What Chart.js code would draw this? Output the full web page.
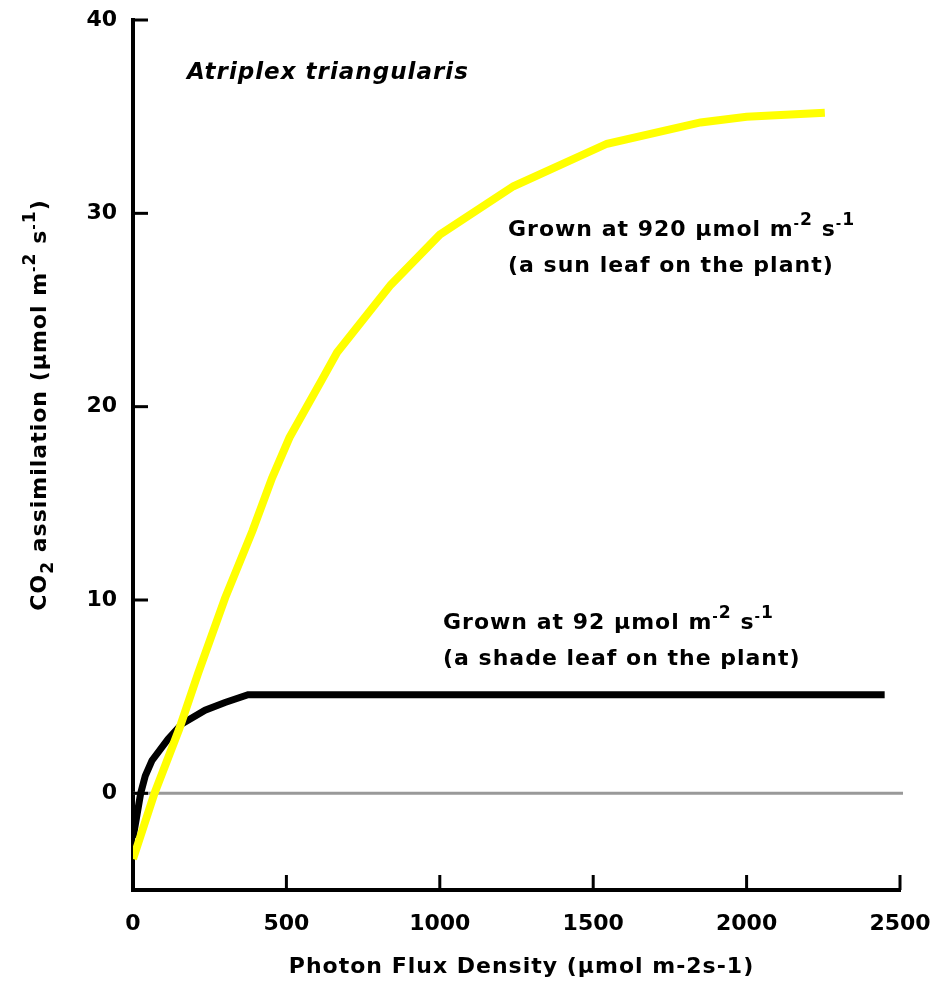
<!DOCTYPE html>
<html>
<head>
<meta charset="utf-8">
<title>Atriplex triangularis</title>
<script src="https://cdn.jsdelivr.net/npm/chart.js@4.4.1/dist/chart.umd.min.js"></script>
<style>
  html, body { margin: 0; padding: 0; background: #fff; }
  #wrap { width: 937px; height: 985px; }
</style>
</head>
<body>
<div id="wrap"><canvas id="wykres" width="937" height="985"></canvas></div>
<script>
// sun leaf (grown at 920)
const sunPfd = [0, 70, 150, 212, 300, 390, 453, 510, 616, 665, 840, 1000, 1240, 1545, 1850, 2000, 2255];
const sunCo2 = [-3.4, 0, 3.3, 6.2, 10.1, 13.6, 16.3, 18.4, 21.4, 22.8, 26.3, 28.9, 31.4, 33.6, 34.7, 35.0, 35.2];

// shade leaf (grown at 92)
const shadePfd = [0, 12, 25, 40, 62, 114, 160, 235, 300, 375, 2450];
const shadeCo2 = [-2.3, -1.2, 0, 0.9, 1.7, 2.8, 3.6, 4.3, 4.7, 5.1, 5.1];

const xTicks = [0, 500, 1000, 1500, 2000, 2500];
const yTicks = [0, 10, 20, 30, 40];

const FONT = '"DejaVu Sans", Verdana, sans-serif';

function toPoints(xs, ys) {
  return xs.map((x, i) => ({ x: x, y: ys[i] }));
}

// no automatic label overhang padding, the layout padding decides the plot box
function noOverhang(scale) {
  scale.paddingLeft = 0;
  scale.paddingRight = 0;
  scale.paddingTop = 0;
  scale.paddingBottom = 0;
}

// text with super/subscript pieces: [text, kind]
function pieceStyle(kind, size) {
  if (kind === 'sup') return { s: size * 0.78, dy: -size * 0.5 };
  if (kind === 'dash') return { s: size * 0.6, dy: -size * 0.36 };
  if (kind === 'sub') return { s: size * 0.78, dy: size * 0.3 };
  return { s: size, dy: 0 };
}

function richWidth(ctx, parts, size) {
  let w = 0;
  parts.forEach(p => {
    ctx.font = 'bold ' + pieceStyle(p[1], size).s + 'px ' + FONT;
    w += ctx.measureText(p[0]).width;
  });
  return w;
}

function drawRich(ctx, x, y, parts, size) {
  let cx = x;
  parts.forEach(p => {
    const st = pieceStyle(p[1], size);
    ctx.font = 'bold ' + st.s + 'px ' + FONT;
    ctx.fillText(p[0], cx, y + st.dy);
    cx += ctx.measureText(p[0]).width;
  });
}

const extras = {
  id: 'extras',
  beforeDatasetsDraw(chart) {
    const { ctx, chartArea, scales } = chart;
    const y0 = scales.y.getPixelForValue(0);
    ctx.save();
    ctx.strokeStyle = '#999999';
    ctx.lineWidth = 3;
    ctx.beginPath();
    ctx.moveTo(chartArea.left, y0);
    ctx.lineTo(chartArea.right + 3, y0);
    ctx.stroke();
    ctx.restore();
  },
  afterDraw(chart) {
    const { ctx, chartArea, scales } = chart;
    ctx.save();
    ctx.strokeStyle = '#000';
    ctx.lineWidth = 3;
    // tick marks pointing into the plot
    yTicks.forEach(v => {
      const py = scales.y.getPixelForValue(v);
      ctx.beginPath();
      ctx.moveTo(chartArea.left, py);
      ctx.lineTo(chartArea.left + 15, py);
      ctx.stroke();
    });
    xTicks.slice(1).forEach(v => {
      const px = scales.x.getPixelForValue(v);
      ctx.beginPath();
      ctx.moveTo(px, chartArea.bottom);
      ctx.lineTo(px, chartArea.bottom - 15);
      ctx.stroke();
    });

    ctx.fillStyle = '#000';
    ctx.textBaseline = 'alphabetic';
    ctx.textAlign = 'left';
    ctx.letterSpacing = '1px';

    ctx.font = 'italic bold 23px ' + FONT;
    ctx.fillText('Atriplex triangularis', 187, 79);

    const size = 22;
    drawRich(ctx, 508, 236, [['Grown at 920 µmol m'], ['-', 'dash'], ['2', 'sup'], [' s'], ['-', 'dash'], ['1', 'sup']], size);
    drawRich(ctx, 508, 272, [['(a sun leaf on the plant)']], size);
    drawRich(ctx, 443, 629, [['Grown at 92 µmol m'], ['-', 'dash'], ['2', 'sup'], [' s'], ['-', 'dash'], ['1', 'sup']], size);
    drawRich(ctx, 443, 665, [['(a shade leaf on the plant)']], size);

    // x axis title
    const xt = [['Photon Flux Density (µmol m-2s-1)']];
    const xw = richWidth(ctx, xt, size);
    drawRich(ctx, (chartArea.left + chartArea.right) / 2 - xw / 2 + 5, 973, xt, size);

    // y axis title, rotated
    const yt = [['CO'], ['2', 'sub'], [' assimilation (µmol m'], ['-', 'dash'], ['2', 'sup'], [' s'], ['-', 'dash'], ['1', 'sup'], [')']];
    const yw = richWidth(ctx, yt, size);
    ctx.translate(46, 405);
    ctx.rotate(-Math.PI / 2);
    drawRich(ctx, -yw / 2, 0, yt, size);
    ctx.restore();
  }
};

const ctx = document.getElementById('wykres').getContext('2d');

new Chart(ctx, {
  type: 'line',
  data: {
    datasets: [
      {
        label: 'Grown at 920',
        data: toPoints(sunPfd, sunCo2),
        borderColor: '#ffff00',
        borderWidth: 8,
        pointRadius: 0,
        tension: 0,
        fill: false,
        order: 0,
        borderCapStyle: 'butt'
      },
      {
        label: 'Grown at 92',
        data: toPoints(shadePfd, shadeCo2),
        borderColor: '#000000',
        borderWidth: 7,
        pointRadius: 0,
        tension: 0,
        fill: false,
        order: 1
      }
    ]
  },
  options: {
    responsive: false,
    animation: false,
    events: [],
    layout: { padding: { top: 20, right: 37, left: 0, bottom: 0 } },
    plugins: {
      legend: { display: false },
      tooltip: { enabled: false }
    },
    scales: {
      x: {
        type: 'linear',
        min: 0,
        max: 2500,
        afterBuildTicks: scale => { scale.ticks = xTicks.map(v => ({ value: v })); },
        afterFit: scale => { scale.height = 95; noOverhang(scale); },
        grid: { display: false, drawTicks: false },
        border: { display: true, color: '#000', width: 4 },
        ticks: {
          color: '#000',
          padding: 21,
          maxRotation: 0,
          callback: v => String(v),
          font: { family: FONT, size: 22, weight: 'bold' }
        }
      },
      y: {
        type: 'linear',
        min: -5,
        max: 40,
        afterBuildTicks: scale => { scale.ticks = yTicks.map(v => ({ value: v })); },
        afterFit: scale => { scale.width = 133; noOverhang(scale); },
        grid: { display: false, drawTicks: false },
        border: { display: true, color: '#000', width: 4 },
        ticks: {
          color: '#000',
          padding: 16,
          callback: v => String(v),
          font: { family: FONT, size: 22, weight: 'bold' }
        }
      }
    }
  },
  plugins: [extras]
});
</script>
</body>
</html>
